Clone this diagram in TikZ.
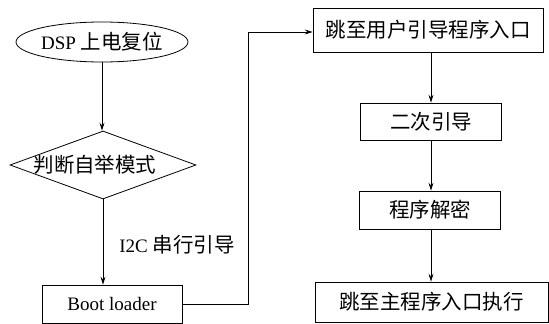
\documentclass[tikz,border=0pt]{standalone}
\usepackage{fontspec}
\setmainfont{Liberation Serif}
\newfontfamily\cjk{Noto Sans CJK SC}
\newcommand\cjkb{\cjk\fontsize{20.5}{22}\selectfont}
\usetikzlibrary{shapes.geometric,arrows.meta}
\tikzset{
  conn/.style={line width=0.8pt,-{Stealth[length=8pt,width=5pt,inset=3pt]}},
  procbox/.style={draw,line width=0.8pt,rectangle,inner sep=0pt,font=\fontsize{19}{22}\selectfont},
  txt/.style={font=\fontsize{19}{22}\selectfont,inner sep=0pt}
}
\begin{document}
\begin{tikzpicture}[x=1pt,y=-1pt]
\useasboundingbox (0,0) rectangle (549,324);
% left column
\node[draw,ellipse,line width=0.8pt,minimum width=167pt,minimum height=40pt,inner sep=0pt,txt] (start) at (102,42) {DSP {\cjkb 上电复位}};
\node[draw,diamond,line width=0.8pt,minimum width=186pt,minimum height=68pt,inner sep=0pt,aspect=2.7] (dia) at (103,165) {};
\node[txt] (diatext) at (95,165) {\cjkb 判断自举模式};
\node[procbox,minimum width=140pt,minimum height=38pt] (boot) at (112,304) {Boot loader};
\node[txt] (i2c) at (177,245) {I2C {\cjkb 串行引导}};
% right column
\node[procbox,minimum width=230pt,minimum height=44pt] (b1) at (428,30) {\cjkb 跳至用户引导程序入口};
\node[procbox,minimum width=141pt,minimum height=37pt] (b2) at (431,121.5) {\cjkb 二次引导};
\node[procbox,minimum width=141pt,minimum height=38pt] (b3) at (430,210) {\cjkb 程序解密};
\node[procbox,minimum width=233pt,minimum height=40pt] (b4) at (431.5,302) {\cjkb 跳至主程序入口执行};
\coordinate (turn) at (248,304);
% connectors
\draw[conn] (start.south) -- (start.south |- dia.north);
\draw[conn] (dia.south) -- (dia.south |- boot.north);
\draw[conn] (boot.east) -- (turn) |- ([yshift=-2pt]b1.west);
\draw[conn] (b1.south -| b2.north) -- (b2.north);
\draw[conn] (b2.south) -- (b2.south |- b3.north);
\draw[conn] (b2.south |- b3.south) -- (b2.south |- b4.north);
\end{tikzpicture}
\end{document}
